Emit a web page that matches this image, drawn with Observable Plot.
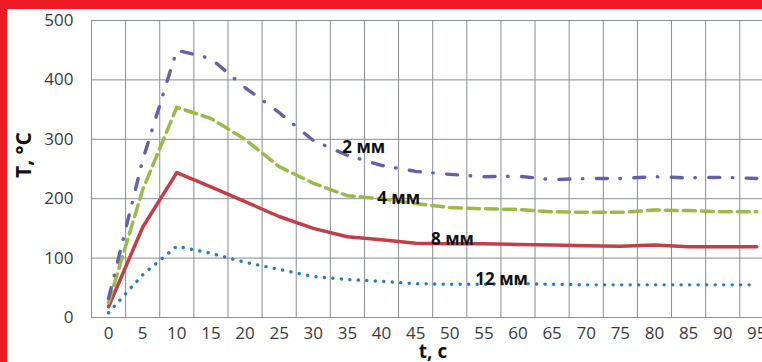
<!DOCTYPE html>
<html><head><meta charset="utf-8">
<script src="https://cdn.jsdelivr.net/npm/d3@7"></script>
<script src="https://cdn.jsdelivr.net/npm/@observablehq/plot@0.6"></script>
<style>
html,body{margin:0;padding:0;background:#fff;}
#wrap{position:relative;width:762px;height:362px;overflow:hidden;background:#fff;}
#wrap svg{position:absolute;left:0;top:0;font-family:"Open Sans",sans-serif;}
.red{position:absolute;background:#ed1c24;z-index:2;}
</style></head><body>
<div id="wrap">
  <div class="red" style="left:0;top:0;width:7px;height:362px"></div>
  <div class="red" style="left:0;top:0;width:762px;height:9px"></div>
</div>
<script>
// Time, s (category labels)
const times = [0, 5, 10, 15, 20, 25, 30, 35, 40, 45, 50, 55, 60, 65, 70, 75, 80, 85, 90, 95];
const yTicks = [0, 100, 200, 300, 400, 500];

// Temperature, °C for each thickness
const mm2  = [32, 265, 450, 436, 387, 345, 298, 273, 256, 246, 241, 237, 238, 232, 234, 234, 237, 235, 236, 234];
const mm4  = [25, 215, 354, 335, 300, 254, 226, 205, 200, 192, 185, 183, 182, 178, 177, 177, 181, 180, 178, 178];
const mm8  = [18, 152, 244, 220, 195, 170, 150, 136, 131, 125, 124, 124, 123, 122, 121, 120, 122, 119, 119, 119];
const mm12 = [8, 72, 120, 108, 93, 81, 69, 64, 61, 57, 56, 56, 57, 56, 55, 55, 55, 55, 55, 55];

const seriesNames = ["2 мм", "4 мм", "8 мм", "12 мм"];
const labelT = [37.4, 42.5, 50.4, 57.6];
const labelV = [286, 200, 131, 64];

const rows = (vals) => times.map((t, i) => ({t, v: vals[i]}));
const labels = seriesNames.map((name, i) => ({x: labelT[i], y: labelV[i], name}));
const gridLines = times.map(t => t - 2.5);

const gridColor = "#878e94";
const chart = Plot.plot({
  width: 762,
  height: 362,
  marginLeft: 91,
  marginRight: 0,
  marginTop: 20,
  marginBottom: 45,
  style: {background: "transparent", fontFamily: "Open Sans, sans-serif"},
  x: {type: "linear", domain: [-2.5, 95.83]},
  y: {domain: [0, 500]},
  marks: [
    Plot.gridY(yTicks, {stroke: gridColor, strokeOpacity: 1, strokeWidth: 1}),
    Plot.gridX(gridLines, {stroke: gridColor, strokeOpacity: 1, strokeWidth: 1}),
    Plot.ruleY([0], {stroke: gridColor, strokeWidth: 1}),
    Plot.ruleX([-2.5], {stroke: gridColor, strokeWidth: 1}),
    Plot.line(rows(mm12), {x: "t", y: "v", stroke: "#2a7cc0", strokeWidth: 3.4, strokeDasharray: "0.1,8.4", strokeLinecap: "round", strokeLinejoin: "round"}),
    Plot.line(rows(mm8), {x: "t", y: "v", stroke: "#c43e4a", strokeWidth: 3.5, strokeLinejoin: "round"}),
    Plot.line(rows(mm4), {x: "t", y: "v", stroke: "#9bbb48", strokeWidth: 3.5, strokeDasharray: "12,6", strokeLinejoin: "round"}),
    Plot.line(rows(mm2), {x: "t", y: "v", stroke: "#6461a8", strokeWidth: 3.4, strokeDasharray: "11,12.5,0.5,13.5", strokeLinecap: "round", strokeLinejoin: "round"}),
    Plot.axisX(times, {tickSize: 0, tickPadding: 9, fontSize: 17, fill: "#3a3a3a", label: null}),
    Plot.axisY(yTicks, {tickSize: 0, tickPadding: 18, fontSize: 17, fill: "#3a3a3a", label: null}),
    Plot.text(labels, {x: "x", y: "y", text: "name", fontSize: 17, fontWeight: "bold", fill: "#111"}),
    Plot.text(["t, с"], {frameAnchor: "bottom", dx: 6, dy: 34, lineAnchor: "middle", textAnchor: "middle", fontSize: 19, fontWeight: "bold", fill: "#111"}),
    Plot.text(["T, °С"], {frameAnchor: "left", rotate: -90, dx: -67, dy: -14, lineAnchor: "middle", textAnchor: "middle", fontSize: 21, fontWeight: "bold", fill: "#111"})
  ]
});
document.getElementById("wrap").appendChild(chart);
</script>
</body></html>
